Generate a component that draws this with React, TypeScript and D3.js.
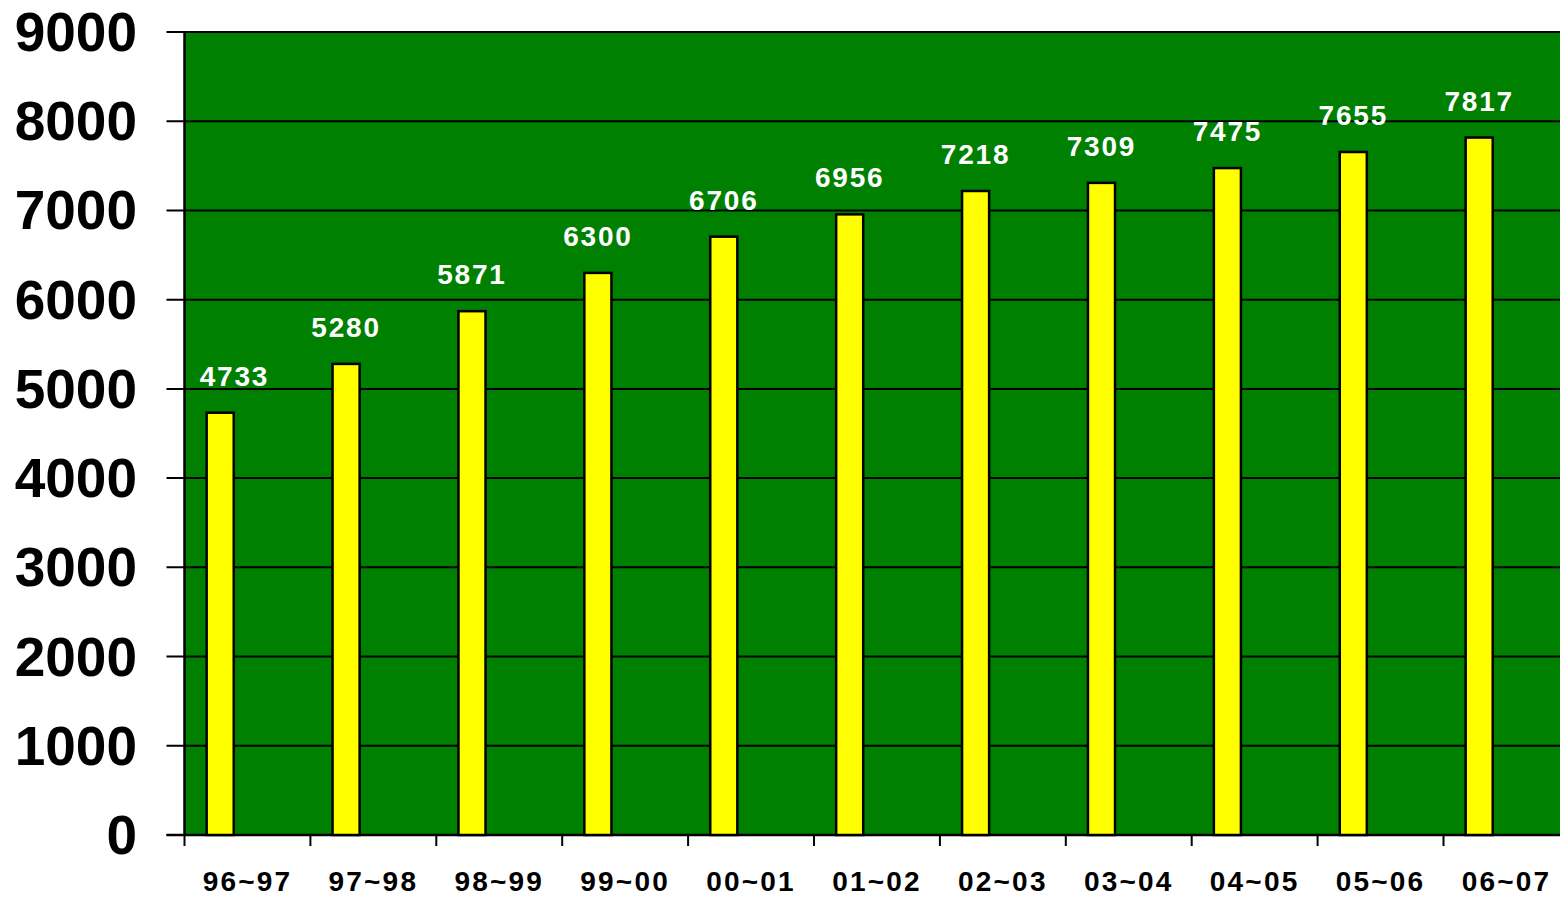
import React from "react";
import * as d3 from "d3";

const categories = ["96~97", "97~98", "98~99", "99~00", "00~01", "01~02", "02~03", "03~04", "04~05", "05~06", "06~07"];
const values = [4733, 5280, 5871, 6300, 6706, 6956, 7218, 7309, 7475, 7655, 7817];
const yTicks = [0, 1000, 2000, 3000, 4000, 5000, 6000, 7000, 8000, 9000];

const W = 1560;
const H = 898;
const left = 184.5;
const top = 32;
const bottom = 835;
const bandW = 125.9;
const right = left + bandW * categories.length;
const FONT = "'Liberation Sans', Arial, Helvetica, sans-serif";

export default function App() {
  React.useEffect(() => {
    document.body.style.margin = "0";
  }, []);
  const x = d3.scaleBand<string>().domain(categories).range([left, right]).paddingInner(0).paddingOuter(0);
  const y = d3.scaleLinear().domain([0, 9000]).range([bottom, top]);
  const bw = x.bandwidth();
  const barOff = bw * 0.176;
  const barW = bw * 0.215;

  return (
    <svg width={W} height={H} style={{ position: "absolute", left: 0, top: 0, display: "block" }} fontFamily={FONT}>
      <rect x={0} y={0} width={W} height={H} fill="#ffffff" />
      <rect x={left} y={y(9000)} width={right - left} height={y(0) - y(9000)} fill="#008000" />
      {yTicks.map((t) => (
        <g key={t}>
          <line x1={left - 18} x2={right} y1={y(t)} y2={y(t)} stroke="#000" strokeWidth={2} />
          <text x={137} y={y(t) + 19} textAnchor="end" fontSize={55} fontWeight="bold" fill="#000">
            {t}
          </text>
        </g>
      ))}
      <line x1={left} x2={left} y1={y(9000)} y2={y(0)} stroke="#000" strokeWidth={2.5} />
      <line x1={left - 18} x2={right} y1={y(0)} y2={y(0)} stroke="#000" strokeWidth={2.5} />
      {categories.map((c, i) => {
        const bx = (x(c) as number) + barOff;
        const cx = bx + barW / 2;
        const labelHalf = 36;
        const lx = Math.max(cx, left + 14 + labelHalf);
        return (
          <g key={c}>
            <line x1={x(c) as number} x2={x(c) as number} y1={y(0)} y2={y(0) + 11} stroke="#000" strokeWidth={2} />
            <rect x={bx} y={y(values[i])} width={barW} height={y(0) - y(values[i])} fill="#ffff00" stroke="#000" strokeWidth={2.5} />
            <text x={lx} y={y(values[i]) - 27} textAnchor="middle" fontSize={28} fontWeight="bold" fill="#ffffff" letterSpacing={1.8}>
              {values[i]}
            </text>
            <text x={(x(c) as number) + bw / 2} y={891} textAnchor="middle" fontSize={28} fontWeight="bold" fill="#000" letterSpacing={2.2}>
              {c}
            </text>
          </g>
        );
      })}
    </svg>
  );
}
